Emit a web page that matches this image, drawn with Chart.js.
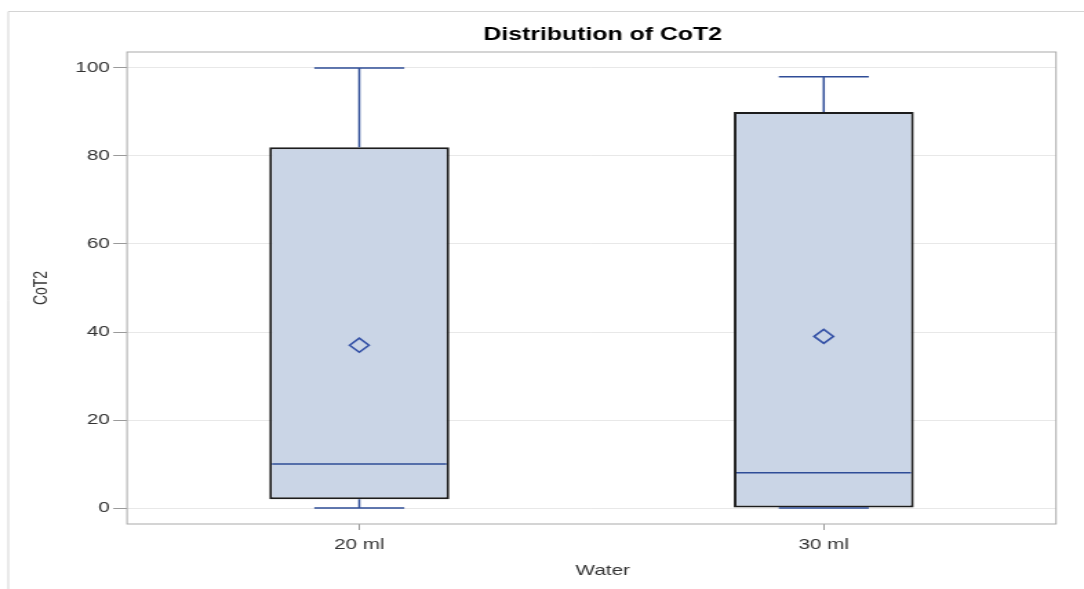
<!DOCTYPE html>
<html>
<head>
<meta charset="utf-8">
<script src="https://cdn.jsdelivr.net/npm/chart.js@4.4.0/dist/chart.umd.min.js"></script>
<style>
    html, body { margin: 0; padding: 0; background: #fff; }
    /* the original graph is stretched sideways, so the canvas is drawn narrow and widened by css */
    #cot2-chart { display: block; width: 1084px !important; height: 589px !important; }
</style>
</head>
<body>
<canvas id="cot2-chart" width="786" height="589"></canvas>
<script>
// Box plot values
const categories = ['20 ml', '30 ml'];
const whiskerMin = [0, 0];
const q1 = [2, 0];
const median = [10, 8];
const q3 = [82, 90];
const whiskerMax = [100, 98];
const means = [37, 39];
const yTicks = [0, 20, 40, 60, 80, 100];

const chartTitle = 'Distribution of CoT2';
const xTitle = 'Water';
const yTitle = 'CoT2';

const boxBlue = '#2f4d97';
const fontName = '"Liberation Sans", Arial, sans-serif';

// Draws the outer frame, the plot frame and the two centred titles
const framePlugin = {
    id: 'frame',
    beforeDraw(chart) {
        const ctx = chart.ctx;
        ctx.save();
        ctx.strokeStyle = '#d4d4d4';
        ctx.lineWidth = 1;
        ctx.beginPath();
        ctx.moveTo(6, chart.height);
        ctx.lineTo(6, 11.5);
        ctx.lineTo(chart.width, 11.5);
        ctx.stroke();
        ctx.restore();
    },
    beforeDatasetsDraw(chart) {
        const a = chart.chartArea;
        const ctx = chart.ctx;
        ctx.save();
        ctx.strokeStyle = '#a9a9a9';
        ctx.lineWidth = 1;
        ctx.strokeRect(a.left, a.top, a.right - a.left, a.bottom - a.top);
        ctx.restore();
    },
    afterDraw(chart) {
        const ctx = chart.ctx;
        const cx = 437; // centre of the whole graph frame
        ctx.save();
        ctx.textAlign = 'center';
        ctx.textBaseline = 'middle';
        ctx.fillStyle = '#000';
        ctx.font = 'bold 18px ' + fontName;
        ctx.fillText(chartTitle, cx, 35);
        ctx.fillStyle = '#333';
        ctx.font = '15px ' + fontName;
        ctx.fillText(xTitle, cx, 571);
        ctx.restore();
    }
};

// Whiskers, caps and median lines, placed through the chart scales
const boxPlugin = {
    id: 'boxExtras',
    afterDatasetsDraw(chart) {
        const y = chart.scales.y;
        const bars = chart.getDatasetMeta(0).data;
        const ctx = chart.ctx;
        ctx.save();
        ctx.strokeStyle = boxBlue;
        ctx.lineWidth = 1.5;
        bars.forEach((bar, i) => {
            const half = bar.width / 2;
            const capHalf = half / 2;
            const yMin = y.getPixelForValue(whiskerMin[i]);
            const yQ1 = y.getPixelForValue(q1[i]);
            const yQ3 = y.getPixelForValue(q3[i]);
            const yMax = y.getPixelForValue(whiskerMax[i]);
            const yMed = y.getPixelForValue(median[i]);
            ctx.beginPath();
            // upper whisker
            ctx.moveTo(bar.x, yQ3);
            ctx.lineTo(bar.x, yMax);
            ctx.moveTo(bar.x - capHalf, yMax);
            ctx.lineTo(bar.x + capHalf, yMax);
            // lower whisker
            ctx.moveTo(bar.x, yQ1);
            ctx.lineTo(bar.x, yMin);
            ctx.moveTo(bar.x - capHalf, yMin);
            ctx.lineTo(bar.x + capHalf, yMin);
            // median
            ctx.moveTo(bar.x - half + 2, yMed);
            ctx.lineTo(bar.x + half - 2, yMed);
            ctx.stroke();
        });
        ctx.restore();
    }
};

new Chart('cot2-chart', {
    type: 'bar',
    data: {
        labels: categories,
        datasets: [
            {
                label: 'Box',
                data: q1.map((v, i) => [v, q3[i]]),
                backgroundColor: '#cad5e6',
                borderColor: '#1c1c1c',
                borderWidth: 2,
                borderSkipped: false,
                categoryPercentage: 1,
                barPercentage: 0.3875,
                order: 2
            },
            {
                type: 'line',
                label: 'Mean',
                data: means,
                showLine: false,
                pointStyle: 'rectRot',
                pointRadius: 7,
                pointBorderWidth: 1.6,
                pointBorderColor: '#3451a6',
                pointBackgroundColor: 'rgba(0,0,0,0)',
                order: 1
            }
        ]
    },
    options: {
        responsive: false,
        animation: false,
        devicePixelRatio: 1,
        layout: { padding: { top: 52, right: 20.3, bottom: 0, left: 0 } },
        plugins: {
            legend: { display: false },
            title: { display: false },
            tooltip: { enabled: false }
        },
        scales: {
            x: {
                offset: true,
                grid: {
                    offset: false,
                    drawOnChartArea: false,
                    drawTicks: true,
                    tickLength: 6,
                    tickColor: '#9a9a9a'
                },
                border: { display: false },
                ticks: {
                    padding: 6,
                    color: '#333',
                    font: { family: fontName, size: 15 }
                },
                afterFit(scale) { scale.height = 65; }
            },
            y: {
                min: -3.636,
                max: 103.636,
                grid: {
                    color: '#e8e8e8',
                    tickColor: '#9a9a9a',
                    tickLength: 10
                },
                border: { display: false },
                ticks: {
                    padding: 2.5,
                    color: '#333',
                    font: { family: fontName, size: 15 }
                },
                afterBuildTicks(scale) {
                    scale.ticks = yTicks.map(v => ({ value: v }));
                },
                title: {
                    display: true,
                    text: yTitle,
                    color: '#333',
                    font: { family: fontName, size: 14 },
                    padding: { top: 22, bottom: 0 }
                },
                afterFit(scale) { scale.width = 92.1; }
            }
        }
    },
    plugins: [framePlugin, boxPlugin]
});
</script>
</body>
</html>
